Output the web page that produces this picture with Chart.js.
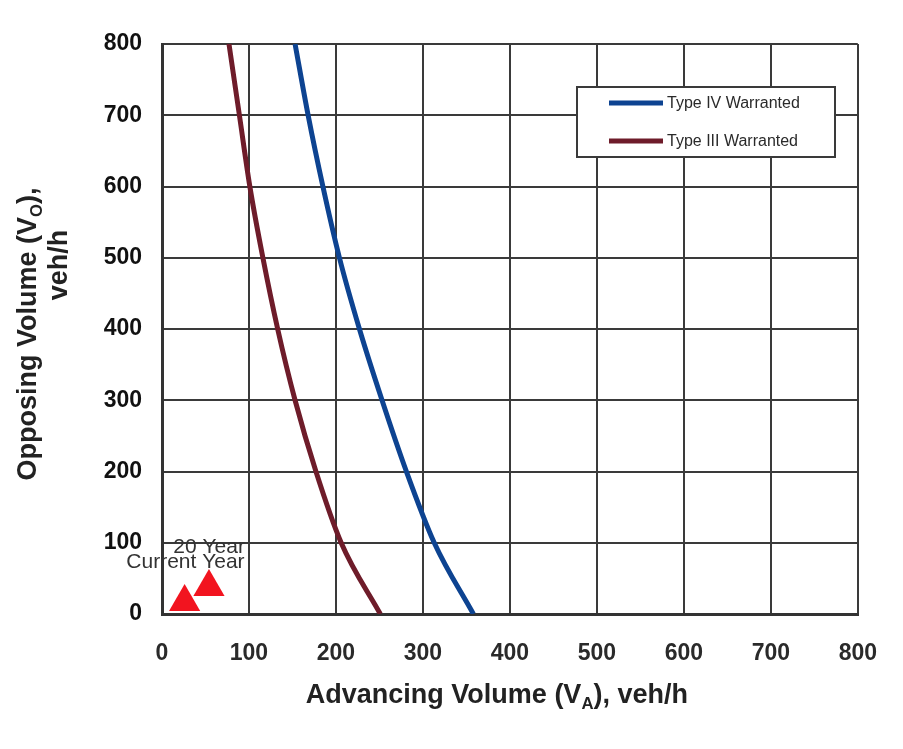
<!DOCTYPE html>
<html>
<head>
<meta charset="utf-8">
<script src="https://cdn.jsdelivr.net/npm/chart.js@4.4.1/dist/chart.umd.min.js"></script>
<style>
  html, body { margin: 0; padding: 0; background: #fff; }
  canvas { display: block; }
</style>
</head>
<body>
<canvas id="grafico" width="903" height="749"></canvas>
<script>
// valores (veh/h)
const volumeTicks = [0, 100, 200, 300, 400, 500, 600, 700, 800];
const opposingVol = [800, 700, 600, 500, 400, 300, 200, 100, 0];
const typeIVAdvancing = [153, 168, 185, 204, 227, 253, 281, 313, 358];
const typeIIIAdvancing = [77, 89, 101, 116, 133, 153, 177, 206, 251];
const pointLabels = ['Current Year', '20 Year'];
const pointAdvancing = [26, 54];
const pointOpposing = [17, 38];

const fonte = '"Liberation Sans", Arial, Helvetica, sans-serif';

function toXY(xs, ys) {
    return xs.map((x, i) => ({ x: x, y: ys[i] }));
}

// texto com subscrito
function textoSub(ctx, partes, x, y, tam) {
    let total = 0;
    partes.forEach(p => {
        ctx.font = 'bold ' + (p.sub ? tam * 0.62 : tam) + 'px ' + fonte;
        total += ctx.measureText(p.t).width;
    });
    let cx = x - total / 2;
    ctx.textAlign = 'left';
    partes.forEach(p => {
        ctx.font = 'bold ' + (p.sub ? tam * 0.62 : tam) + 'px ' + fonte;
        ctx.fillText(p.t, cx, p.sub ? y + tam * 0.22 : y);
        cx += ctx.measureText(p.t).width;
    });
}

const extras = {
    id: 'extras',
    afterDatasetsDraw(chart) {
        const ctx = chart.ctx;
        const area = chart.chartArea;
        ctx.save();

        // rótulos dos triângulos
        const meta = chart.getDatasetMeta(2);
        const offs = [{ dx: 60, dy: -34 }, { dx: 36, dy: -34 }];
        ctx.fillStyle = '#333';
        ctx.font = '21px ' + fonte;
        ctx.textAlign = 'right';
        ctx.textBaseline = 'alphabetic';
        meta.data.forEach((p, i) => {
            ctx.fillText(pointLabels[i], p.x + offs[i].dx, p.y + offs[i].dy);
        });

        // legenda
        const lx = 577, ly = 87, lw = 258, lh = 70;
        ctx.fillStyle = '#fff';
        ctx.fillRect(lx, ly, lw, lh);
        ctx.strokeStyle = '#3a3a3a';
        ctx.lineWidth = 2;
        ctx.strokeRect(lx, ly, lw, lh);
        [0, 1].forEach(i => {
            const ds = chart.data.datasets[i];
            const y = ly + 16 + i * 38;
            ctx.strokeStyle = ds.borderColor;
            ctx.lineWidth = 5;
            ctx.beginPath();
            ctx.moveTo(lx + 32, y);
            ctx.lineTo(lx + 86, y);
            ctx.stroke();
            ctx.fillStyle = '#2a2a2a';
            ctx.font = '16px ' + fonte;
            ctx.textAlign = 'left';
            ctx.textBaseline = 'middle';
            ctx.fillText(ds.label, lx + 90, y + 1);
        });

        // títulos dos eixos
        ctx.fillStyle = '#222';
        ctx.textBaseline = 'alphabetic';
        textoSub(ctx, [{ t: 'Advancing Volume (V' }, { t: 'A', sub: true }, { t: '), veh/h' }],
            (area.left + area.right) / 2 - 13, 703, 27);

        ctx.save();
        ctx.translate(36, 334);
        ctx.rotate(-Math.PI / 2);
        textoSub(ctx, [{ t: 'Opposing Volume (V' }, { t: 'O', sub: true }, { t: '),' }], 0, 0, 27);
        textoSub(ctx, [{ t: 'veh/h' }], 69, 31, 27);
        ctx.restore();

        ctx.restore();
    }
};

new Chart(document.getElementById('grafico'), {
    type: 'scatter',
    data: {
        datasets: [{
            label: 'Type IV Warranted',
            data: toXY(typeIVAdvancing, opposingVol),
            showLine: true,
            borderColor: '#0d4391',
            borderWidth: 5,
            pointRadius: 0,
            cubicInterpolationMode: 'monotone'
        }, {
            label: 'Type III Warranted',
            data: toXY(typeIIIAdvancing, opposingVol),
            showLine: true,
            borderColor: '#6e1c2a',
            borderWidth: 5,
            pointRadius: 0,
            cubicInterpolationMode: 'monotone'
        }, {
            label: 'Points',
            data: toXY(pointAdvancing, pointOpposing),
            pointStyle: 'triangle',
            pointRadius: 18,
            backgroundColor: '#f2141f',
            borderColor: '#f2141f',
            borderWidth: 0,
            clip: false
        }]
    },
    options: {
        responsive: false,
        animation: false,
        layout: { padding: { top: 44, right: 43, left: 0, bottom: 0 } },
        plugins: {
            legend: { display: false },
            tooltip: { enabled: false }
        },
        scales: {
            x: {
                type: 'linear',
                min: 0,
                max: 800,
                afterBuildTicks: s => { s.ticks = volumeTicks.map(v => ({ value: v })); },
                afterFit: s => { s.height = 135; },
                grid: { color: '#3a3a3a', lineWidth: 2, drawTicks: false },
                border: { display: true, color: '#333', width: 3 },
                ticks: {
                    padding: 26,
                    color: '#2a2a2a',
                    font: { family: fonte, size: 23, weight: 'bold' }
                }
            },
            y: {
                type: 'linear',
                min: 0,
                max: 800,
                afterBuildTicks: s => { s.ticks = volumeTicks.map(v => ({ value: v })); },
                afterFit: s => { s.width = 162; },
                grid: { color: '#3a3a3a', lineWidth: 2, drawTicks: false },
                border: { display: true, color: '#333', width: 3 },
                ticks: {
                    padding: 20,
                    color: '#111',
                    font: { family: fonte, size: 23, weight: 'bold' }
                }
            }
        }
    },
    plugins: [extras]
});
</script>
</body>
</html>
